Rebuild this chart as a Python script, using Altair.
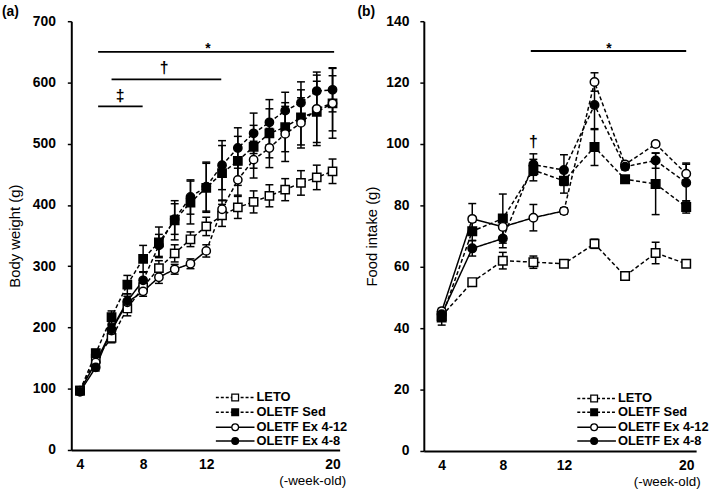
import altair as alt
import pandas as pd

SERIES = ["LETO", "OLETF Sed", "OLETF Ex 4-12", "OLETF Ex 4-8"]
SHAPES = ["square", "square", "circle", "circle"]
FILLS = ["white", "black", "white", "black"]
SOLID_UNTIL = [None, None, 12, 8]

# ---- (a) body weight ----
weeks_a = list(range(4, 21))
bw_leto = [97, 149, 183, 231, 266, 297, 321, 344, 365, 383, 396, 405, 415, 425, 436, 445, 455]
bw_sed = [97, 158, 217, 270, 312, 339, 375, 404, 428, 452, 472, 495, 517, 527, 543, 552, 566]
bw_ex412 = [97, 143, 195, 241, 259, 282, 295, 304, 325, 393, 441, 474, 493, 516, 534, 557, 566]
bw_ex48 = [95, 135, 197, 243, 277, 334, 377, 413, 430, 465, 493, 517, 535, 554, 567, 586, 588]
bw_err_leto = [3, 5, 8, 12, 10, 12, 14, 12, 15, 18, 18, 18, 18, 18, 20, 20, 20]
bw_err_sed = [4, 6, 10, 15, 22, 25, 32, 35, 40, 45, 40, 35, 40, 40, 45, 50, 45]
bw_err_ex412 = [4, 5, 8, 10, 8, 10, 8, 8, 10, 15, 25, 30, 32, 45, 41, 60, 57]
bw_err_ex48 = [4, 6, 8, 12, 14, 18, 25, 28, 40, 40, 33, 33, 37, 30, 34, 26, 36]

# ---- (b) food intake ----
weeks_b = [4, 6, 8, 10, 12, 14, 16, 18, 20]
fi_leto = [44, 55, 62, 61.5, 61, 67.5, 57, 64.5, 61]
fi_sed = [43.5, 71.6, 75.7, 91.5, 88, 99, 88.5, 87, 79.5]
fi_ex412 = [45.5, 75.6, 73, 76, 78.2, 120.2, 93.3, 100, 90.3]
fi_ex48 = [44.5, 66, 69.2, 93.3, 91.5, 112.7, 92.6, 94.6, 87.4]
fi_err_leto = [1, 1, 2.7, 2, 0.6, 1.5, 0.8, 3.5, 0.8]
fi_err_sed = [2.5, 3, 8, 3.5, 4, 6, 1, 10, 2]
fi_err_ex412 = [1, 5, 3, 4.3, 1, 3, 1, 0.8, 3.5]
fi_err_ex48 = [1.5, 2.5, 3, 3.5, 5, 8, 1, 2.5, 6]

# significance annotations: (x start, x end, y) and (symbol, x, y, size)
sig_lines_a = [(5.15, 20.1, 650), (6.0, 12.95, 605), (5.15, 7.97, 561)]
sig_text_a = [("*", 12.1, 648, 14), ("†", 9.33, 616, 16), ("‡", 6.55, 569, 16)]
sig_lines_b = [(9.83, 20.0, 130.3)]
sig_text_b = [("*", 14.95, 129.8, 14), ("†", 10.0, 99.0, 16)]


def point_frame(weeks, vals, errs):
    rows = []
    for s, v_list, e_list in zip(SERIES, vals, errs):
        for w, v, e in zip(weeks, v_list, e_list):
            rows.append({"series": s, "week": w, "value": v, "lo": v - e, "hi": v + e})
    return pd.DataFrame(rows)


def line_frame(weeks, vals):
    rows = []
    for s, v_list, cut in zip(SERIES, vals, SOLID_UNTIL):
        for w, v in zip(weeks, v_list):
            if cut is None:
                rows.append({"series": s, "week": w, "value": v, "seg": s + "-d", "style": "dashed"})
            else:
                if w <= cut:
                    rows.append({"series": s, "week": w, "value": v, "seg": s + "-s", "style": "solid"})
                if w >= cut:
                    rows.append({"series": s, "week": w, "value": v, "seg": s + "-d", "style": "dashed"})
    return pd.DataFrame(rows)


def panel(weeks, vals, errs, xdom, ydom, yticks, ytitle, sig_lines, sig_text,
          label, label_x, leg, width, height, lab_pad, title_pad, xtitle_x, msize, xt_size):
    pts = point_frame(weeks, vals, errs)
    lns = line_frame(weeks, vals)
    xs = alt.Scale(domain=xdom, nice=False, zero=False)
    ys = alt.Scale(domain=ydom, nice=False)
    xax = alt.Axis(values=[4, 8, 12, 20], ticks=False, tickSize=0, grid=False,
                   labelFontSize=14, labelFontWeight="bold", labelPadding=8,
                   title="(-week-old)", titleX=xtitle_x, titleY=31, titleAlign="right",
                   titleBaseline="middle", titleFontSize=xt_size, titleFontWeight="normal",
                   titleAnchor="end", labelFlush=False)
    yax = alt.Axis(values=yticks, tickSize=4, tickWidth=1.5, grid=False,
                   labelFontSize=14, labelFontWeight="bold", labelPadding=lab_pad,
                   title=ytitle, titleFontSize=15, titleFontWeight="normal",
                   titlePadding=title_pad)
    X = alt.X("week:Q", scale=xs, axis=xax)
    Y = alt.Y("value:Q", scale=ys, axis=yax)

    base = alt.Chart(pts)
    err = base.mark_rule(color="black", strokeWidth=1.5).encode(
        x=alt.X("week:Q", scale=xs), y=alt.Y("lo:Q", scale=ys), y2="hi:Q")
    cap_hi = base.mark_rule(color="black", strokeWidth=1.5, xOffset=-4, x2Offset=4).encode(
        x=alt.X("week:Q", scale=xs), x2="week:Q", y=alt.Y("hi:Q", scale=ys))
    cap_lo = base.mark_rule(color="black", strokeWidth=1.5, xOffset=-4, x2Offset=4).encode(
        x=alt.X("week:Q", scale=xs), x2="week:Q", y=alt.Y("lo:Q", scale=ys))
    lines = alt.Chart(lns).mark_line(color="black", strokeWidth=1.5).encode(
        x=X, y=Y, detail="seg:N",
        strokeDash=alt.StrokeDash("style:N", scale=alt.Scale(domain=["solid", "dashed"],
                                                            range=[[1, 0], [4, 2.5]]), legend=None))
    points = base.mark_point(filled=False, size=msize, stroke="black", strokeWidth=1.5,
                             opacity=1, fillOpacity=1).encode(
        x=X, y=Y,
        shape=alt.Shape("series:N", scale=alt.Scale(domain=SERIES, range=SHAPES), legend=None),
        fill=alt.Fill("series:N", scale=alt.Scale(domain=SERIES, range=FILLS), legend=None))

    sl = pd.DataFrame(sig_lines, columns=["x1", "x2", "y"])
    sig_l = alt.Chart(sl).mark_rule(color="black", strokeWidth=1.8).encode(
        x=alt.X("x1:Q", scale=xs), x2="x2:Q", y=alt.Y("y:Q", scale=ys))
    st = pd.DataFrame(sig_text, columns=["t", "x", "y", "fs"])
    sig_t = alt.Chart(st).mark_text(fontWeight="bold", baseline="alphabetic",
                                    align="center", color="black", fill="black").encode(
        x=alt.X("x:Q", scale=xs), y=alt.Y("y:Q", scale=ys), text="t:N",
        size=alt.Size("fs:Q", scale=None, legend=None))

    plab = alt.Chart(pd.DataFrame({"t": [label]})).mark_text(
        fontSize=14, fontWeight="bold", align="left", baseline="top", color="black").encode(
        x=alt.value(label_x), y=alt.value(-16), text="t:N")

    lx0, lx1, mx, tx, rows = leg
    legend_layers = []
    for s, shp, fl, cut, ry in zip(SERIES, SHAPES, FILLS, SOLID_UNTIL, rows):
        d = pd.DataFrame({"t": [s]})
        dash = [3, 2] if cut is None else [1, 0]
        legend_layers.append(alt.Chart(d).mark_rule(color="black", strokeWidth=1.5,
                                                    strokeDash=dash).encode(
            x=alt.value(lx0), x2=alt.value(lx1), y=alt.value(ry)))
        legend_layers.append(alt.Chart(d).mark_point(shape=shp, fill=fl, filled=False,
                                                     stroke="black", strokeWidth=1.3,
                                                     size=46, opacity=1, fillOpacity=1).encode(
            x=alt.value(mx), y=alt.value(ry)))
        legend_layers.append(alt.Chart(d).mark_text(align="left", baseline="middle",
                                                    fontSize=13, fontWeight="bold",
                                                    color="black").encode(
            x=alt.value(tx), y=alt.value(ry), text="t:N"))

    return alt.layer(err, cap_hi, cap_lo, lines, points, sig_l, sig_t, plab,
                     *legend_layers).properties(width=width, height=height)


left = panel(weeks_a, [bw_leto, bw_sed, bw_ex412, bw_ex48],
             [bw_err_leto, bw_err_sed, bw_err_ex412, bw_err_ex48],
             [3.45, 20.45], [0, 700], list(range(0, 701, 100)), "Body weight (g)",
             sig_lines_a, sig_text_a, "(a)", -70,
             (146, 185, 165.5, 187, [380, 395, 410, 424]), 271, 433, 12, 10, 277, 70, 13.5)
right = panel(weeks_b, [fi_leto, fi_sed, fi_ex412, fi_ex48],
              [fi_err_leto, fi_err_sed, fi_err_ex412, fi_err_ex48],
              [2.83, 20.65], [0, 140], list(range(0, 141, 20)), "Food intake (g)",
              sig_lines_b, sig_text_b, "(b)", -67,
              (155, 194, 172, 196, [381, 395, 410, 424]), 275, 434, 11, 6, 279, 74, 13.5)

chart = alt.hconcat(left, right, spacing=85, bounds="flush").properties(
    padding={"left": 2, "top": 3, "right": 0, "bottom": 0}
).configure_view(stroke=None).configure_axis(
    domainColor="black", domainWidth=2, tickColor="black", labelColor="black",
    titleColor="black", labelFont="Liberation Sans", titleFont="Liberation Sans"
).configure_text(font="Liberation Sans")

chart.save("out.html", embed_options={"renderer": "svg", "actions": False})
